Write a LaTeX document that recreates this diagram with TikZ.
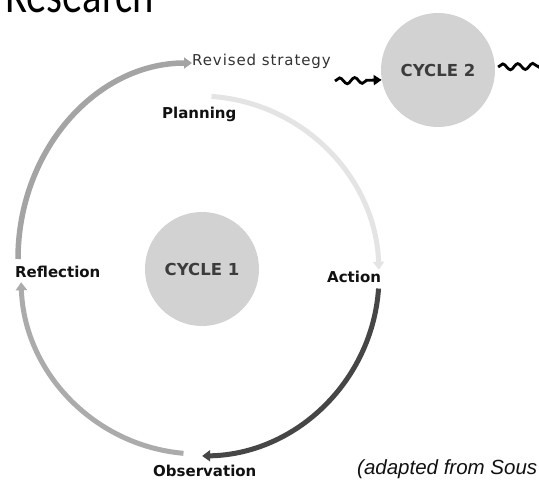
\documentclass[tikz,border=0pt]{standalone}
\usepackage{fontspec}
\setmainfont{DejaVu Sans}
\newfontfamily\lsfont[LetterSpace=6]{DejaVu Sans}
\newfontfamily\arialfont{Liberation Sans}
\newfontfamily\calfont{Carlito}
\usetikzlibrary{arrows.meta,decorations.pathmorphing,calc}
\definecolor{circfill}{HTML}{D2D2D2}
\definecolor{circtext}{HTML}{3C3C3C}
\definecolor{plancol}{HTML}{E4E4E4}
\definecolor{actcol}{HTML}{464646}
\definecolor{obscol}{HTML}{ABABAB}
\definecolor{revcol}{HTML}{A4A4A4}
\definecolor{labtext}{HTML}{111111}
\definecolor{revtext}{HTML}{333333}
\tikzset{
  cyclebox/.style={circle, fill=circfill, minimum size=114pt, inner sep=0pt,
    text=circtext, font=\bfseries\fontsize{16.5}{19}\selectfont},
  lab/.style={anchor=base west, inner sep=0pt, text=labtext,
    font=\bfseries\fontsize{15}{18}\selectfont},
  arcarrow/.style={line width=5pt, -{Triangle[width=11pt,length=8pt]}},
  wavy/.style={line width=2.8pt, black, -{Triangle[width=10pt,length=8pt]},
    decorate, decoration={snake, amplitude=3pt, segment length=15pt, post length=8pt}}
}
\begin{document}
\begin{tikzpicture}[x=1pt,y=-1pt]
\useasboundingbox (0,0) rectangle (539,481);
\clip (0,0) rectangle (539,481);
\fill[white] (0,0) rectangle (539,481);

% title fragment
\node[anchor=base west, inner sep=0pt, font=\calfont\fontsize{52}{52}\selectfont] (title) at (5,13) {\scalebox{0.78}[1]{Research}};

% circles
\node[cyclebox] (c1) at (202,269) {CYCLE 1};
\node[cyclebox] (c2) at (438,70) {CYCLE 2};

% labels
\node[anchor=base west, inner sep=0pt, text=revtext, font=\lsfont\fontsize{15}{18}\selectfont] (rev) at (192,66) {Revised strategy};
\node[lab] (plan) at (162,119) {Planning};
\node[lab] (refl) at (15,278) {Reflection};
\node[lab] (act) at (327,283) {Action};
\node[lab] (obs) at (153,477) {Observation};
\node[anchor=base west, inner sep=0pt, text=labtext, font=\arialfont\itshape\fontsize{20.5}{24}\selectfont] (src) at (357,475) {(adapted from Sous};

% cycle arcs
\coordinate (ctr) at (199,276);
\coordinate (pstart) at ($(ctr)+(-86:180)$);
\coordinate (astart) at ($(ctr)+(4:180)$);
\coordinate (ostart) at ($(ctr)+(95:178)$);
\coordinate (rstart) at (18,259);

\draw[arcarrow, plancol] (pstart) arc[start angle=-86, end angle=-2, radius=180];
\draw[arcarrow, actcol] (astart) arc[start angle=4, end angle=89, radius=180];
\draw[arcarrow, obscol] (ostart) arc[start angle=95, end angle=178, radius=178];
\draw[arcarrow, revcol, line width=5.5pt] (rstart) arc[start angle=180, end angle=270, x radius=174, y radius=196];

% wavy arrows
\coordinate (wend) at (550,66);
\draw[wavy] (335,81) -- (c2.190);
\draw[wavy] ([xshift=3pt]c2.3) -- (wend);
\end{tikzpicture}
\end{document}
